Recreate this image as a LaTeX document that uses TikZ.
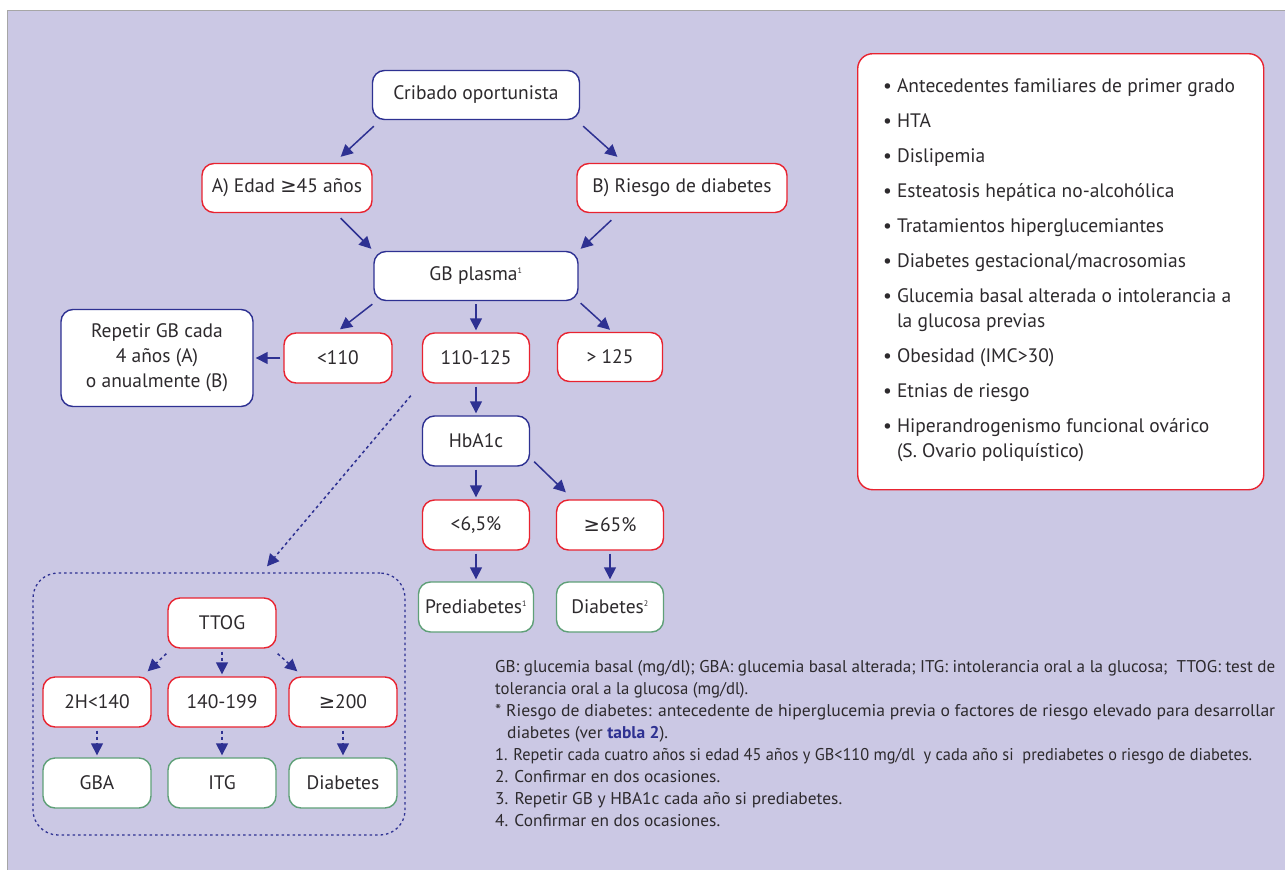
\documentclass[tikz,border=0pt]{standalone}
\usepackage{fontspec}
\setmainfont{PT Sans}
\newfontfamily\simbolos{DejaVu Sans}
\usepackage{xcolor}
\usepackage{graphicx}
\usetikzlibrary{arrows.meta}

\definecolor{lavanda}{RGB}{203,200,228}
\definecolor{azul}{RGB}{46,49,146}
\definecolor{rojo}{RGB}{232,35,48}
\definecolor{verde}{RGB}{95,160,120}
\definecolor{texto}{RGB}{45,42,45}
\newcommand{\geqs}{{\simbolos ≥}}
\newcommand{\supind}[1]{\textsuperscript{\fontsize{8}{8}\selectfont #1}}
\newcommand{\linea}[2]{\resizebox{#1pt}{\height}{#2}}

\begin{document}
\begin{tikzpicture}[x=1pt,y=-1pt]
 \tikzstyle{caja}=[draw, fill=white, rounded corners=12pt, line width=1.4pt,
                   inner sep=0pt, minimum height=49pt, align=center, text=texto,
                   font=\fontsize{19.5}{25}\selectfont]
 \tikzstyle{cajaazul}=[caja, draw=azul]
 \tikzstyle{cajaroja}=[caja, draw=rojo]
 \tikzstyle{cajaverde}=[caja, draw=verde]
 \tikzstyle{flecha}=[azul, line width=1.5pt, -{Triangle[length=12pt,width=12pt]}]
 \tikzstyle{punteo}=[flecha, dash pattern=on 3pt off 3pt]
 \tikzstyle{corta}=[shorten <=3pt, shorten >=2pt]

        \useasboundingbox (0,0) rectangle (1285,870);
        \fill[lavanda] (8,11) rectangle (1285,870);
        \draw[black!35, line width=1.5pt] (7.5,870) -- (7.5,10.5) -- (1285,10.5);

        % main flow
        \node[cajaazul, minimum width=207pt] (cribado) at (476,95) {Cribado oportunista};
        \node[cajaroja, minimum width=170pt] (edadA) at (287,188) {A) Edad \geqs45 años};
        \node[cajaroja, minimum width=210pt] (riesgoB) at (682,188) {B) Riesgo de diabetes};
        \node[cajaazul, minimum width=204pt] (gbplasma) at (476,276) {GB plasma\supind{1}};
        \node[cajaazul, minimum width=192pt, minimum height=97pt] (repetir) at (157,358)
             {Repetir GB cada\\4 años (A)\\o anualmente (B)};
        \node[cajaroja, minimum width=108pt, minimum height=50pt] (menor) at (338,358) {<110};
        \node[cajaroja, minimum width=107pt, minimum height=50pt] (medio) at (476,358) {110-125};
        \node[cajaroja, minimum width=105pt] (mayor) at (610,357) {> 125};
        \node[cajaazul, minimum width=107pt, minimum height=50pt] (hba) at (476,441) {HbA1c};
        \node[cajaroja, minimum width=107pt, minimum height=50pt] (bajo) at (476,525) {<6,5\%};
        \node[cajaroja, minimum width=107pt, minimum height=50pt] (alto) at (610,525) {\geqs65\%};
        \node[cajaverde, minimum width=115pt, minimum height=50pt] (prediab) at (476,607) {Prediabetes\supind{1}};
        \node[cajaverde, minimum width=107pt, minimum height=50pt] (diab) at (610,607) {Diabetes\supind{2}};

        % TTOG block
        \node[draw=azul, line width=1.3pt, dash pattern=on 2.5pt off 3pt, rounded corners=25pt,
              minimum width=372pt, minimum height=262pt] (zonattog) at (219,704) {};
        \node[cajaroja, minimum width=108pt, minimum height=50pt] (ttog) at (222,623) {TTOG};
        \node[cajaroja, minimum width=108pt, minimum height=50pt] (h140) at (97,702) {2H<140};
        \node[cajaroja, minimum width=108pt, minimum height=50pt] (r199) at (222,702) {140-199};
        \node[cajaroja, minimum width=108pt, minimum height=50pt] (m200) at (343,702) {\geqs200};
        \node[cajaverde, minimum width=108pt, minimum height=50pt] (gba) at (97,783) {GBA};
        \node[cajaverde, minimum width=108pt, minimum height=50pt] (itg) at (222,783) {ITG};
        \node[cajaverde, minimum width=108pt, minimum height=50pt] (diabt) at (343,783) {Diabetes};

        % risk factors
        \node[cajaroja, rounded corners=15pt, minimum width=406pt, minimum height=436pt,
              anchor=north west] (factores) at (857,53) {};
        \node[anchor=north west, inner sep=0pt, text=texto,
              font=\fontsize{19.5}{25}\selectfont] (lista) at (883,75) {%
        \begin{tabular}{@{}l@{\hspace{5pt}}l@{}}
        \textbullet & Antecedentes familiares de primer grado\\[10pt]
        \textbullet & HTA\\[10pt]
        \textbullet & Dislipemia\\[10pt]
        \textbullet & Esteatosis hepática no-alcohólica\\[10pt]
        \textbullet & Tratamientos hiperglucemiantes\\[10pt]
        \textbullet & Diabetes gestacional/macrosomias\\[10pt]
        \textbullet & Glucemia basal alterada o intolerancia a\\
                    & la glucosa previas\\[10pt]
        \textbullet & Obesidad (IMC>30)\\[10pt]
        \textbullet & Etnias de riesgo\\[10pt]
        \textbullet & Hiperandrogenismo funcional ovárico\\
                    & (S. Ovario poliquístico)
        \end{tabular}};

        % notes
        \node[anchor=north west, inner sep=0pt, align=left, text=texto,
              font=\fontsize{17}{22}\selectfont] (notas) at (495,660) {%
        \linea{780}{GB: glucemia basal (mg/dl); GBA: glucemia basal alterada; ITG: intolerancia oral a la glucosa;\ \ TTOG: test de}\\
        \linea{253}{tolerancia oral a la glucosa (mg/dl).}\\
        \linea{780}{* Riesgo de diabetes: antecedente de hiperglucemia previa o factores de riesgo elevado para desarrollar}\\
        \hspace*{12pt}\linea{161}{diabetes (ver \textcolor{azul}{\textbf{tabla 2}}).}\\
        \linea{757}{1. Repetir cada cuatro años si edad 45 años y GB<110 mg/dl\ \ y cada año si\ \ prediabetes o riesgo de diabetes.}\\
        \linea{225}{2. Confirmar en dos ocasiones.}\\
        \linea{347}{3. Repetir GB y HBA1c cada año si prediabetes.}\\
        \linea{225}{4. Confirmar en dos ocasiones.}};

        \path[flecha]
    ([shift={(2,6)}]cribado.south west) edge ([shift={(-32,-6)}]edadA.north east)
    ([shift={(3,6)}]cribado.south east) edge ([shift={(41,-6)}]riesgoB.north west)
    ([shift={(-32,5)}]edadA.south east) edge ([shift={(-2,-2)}]gbplasma.north west)
    ([shift={(35,7)}]riesgoB.south west) edge ([shift={(2,-2)}]gbplasma.north east)
    ([shift={(-1,3)}]gbplasma.south west) edge ([shift={(2,-3)}]menor.north)
    ([shift={(2,2)}]gbplasma.south east) edge ([shift={(0,-2)}]mayor.north)
    ([shift={(4,-5)}]hba.south east) edge ([shift={(10,-7)}]alto.north west);

        \path[flecha, corta]
    (gbplasma) edge (medio)
    (menor) edge (repetir)
    (medio) edge (hba)
    (hba) edge (bajo)
    (bajo) edge (prediab)
    (alto) edge (diab);

        \path[punteo]
    ([shift={(-11,12)}]medio.south west) edge ([shift={(48,-6)}]zonattog.north)
    ([shift={(-1,5)}]ttog.south west) edge ([shift={(-4,-5)}]h140.north east)
    ([shift={(1,5)}]ttog.south east) edge ([shift={(9,-5)}]m200.north west);

        \path[punteo, corta]
    (ttog) edge (r199)
    (h140) edge (gba)
    (r199) edge (itg)
    (m200) edge (diabt);

\end{tikzpicture}
\end{document}
